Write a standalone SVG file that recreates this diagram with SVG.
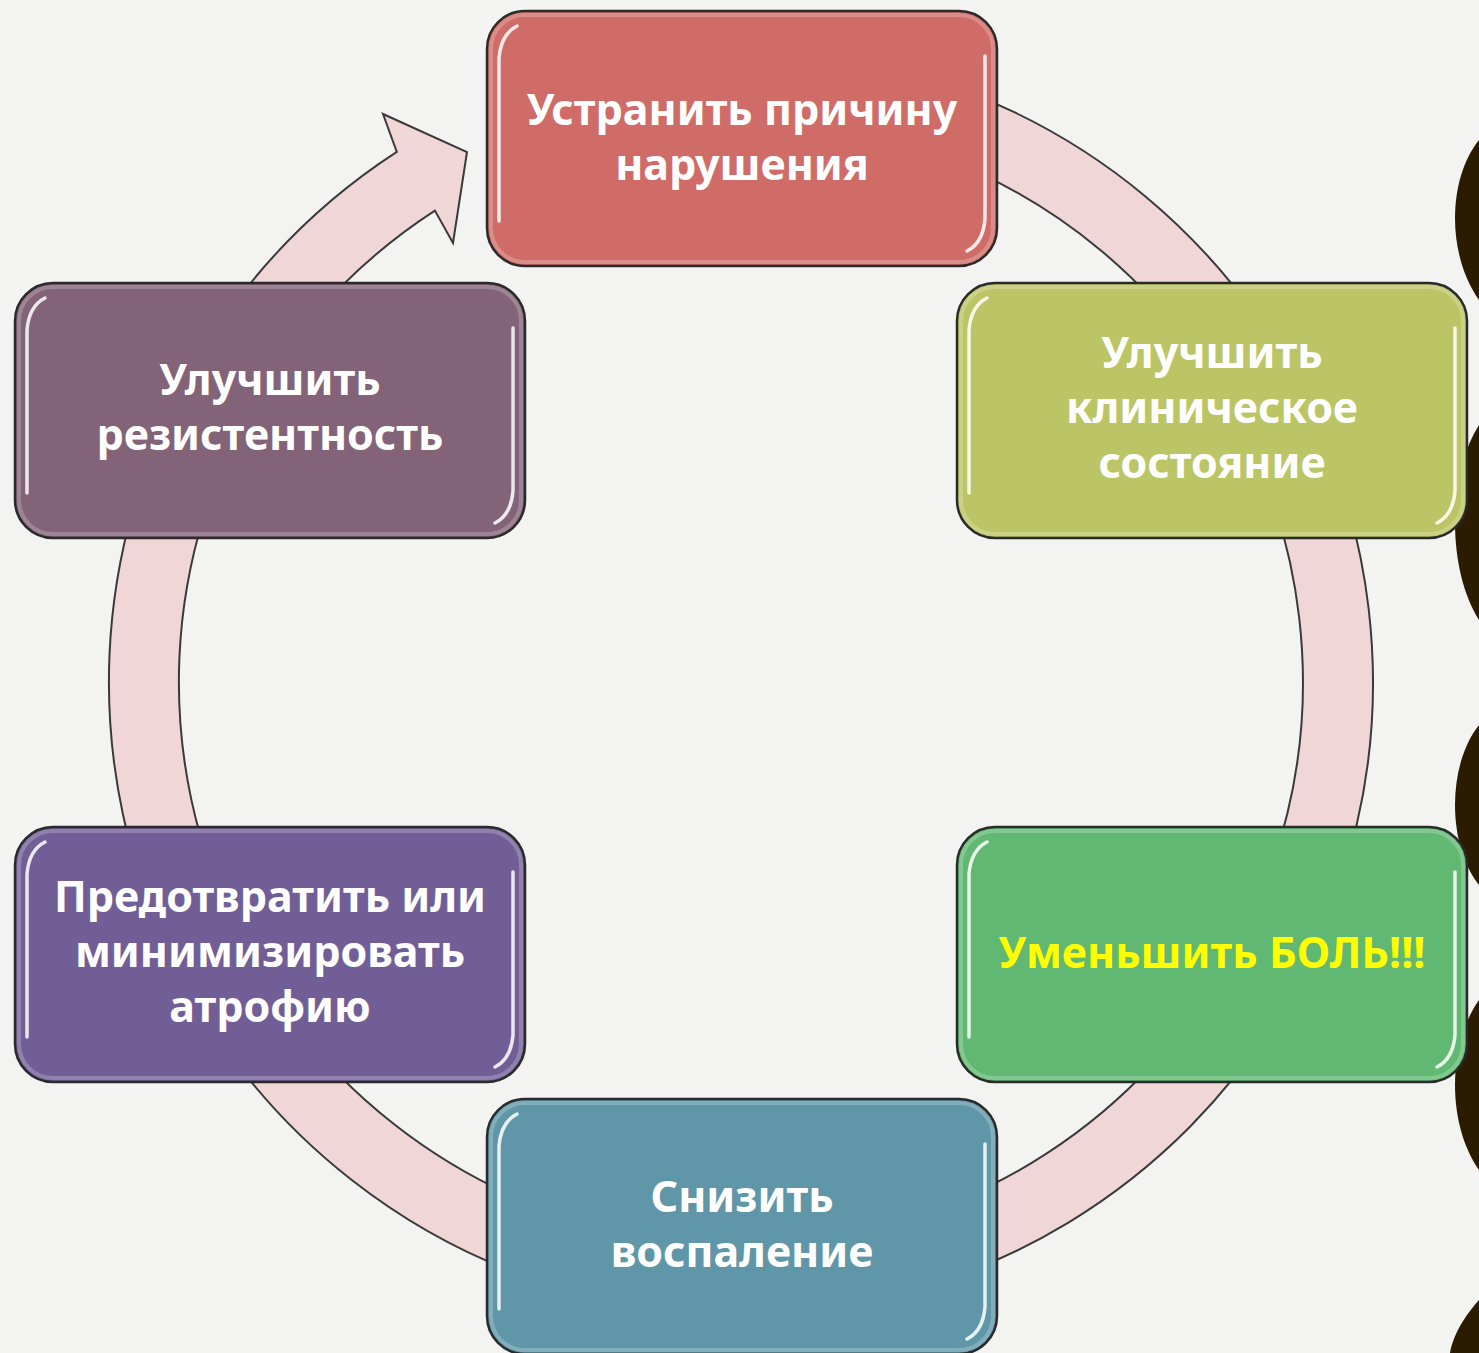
<svg xmlns="http://www.w3.org/2000/svg" width="1479" height="1353" viewBox="0 0 1479 1353">
<style>
.bg{fill:#F3F3F1}
.dark{fill:#2B1B00}
.ring{fill:#F0D6D6;stroke:#3a3a3a;stroke-width:2;stroke-linejoin:miter}
.box{stroke:#2a2a2a;stroke-width:2.5}
.rim{fill:none;stroke:#ffffff;stroke-opacity:0.22;stroke-width:4}
.hl{fill:none;stroke:#ffffff;stroke-width:3.5;stroke-linecap:round;stroke-opacity:0.85}
.t{font-family:"Noto Sans","Open Sans","DejaVu Sans",sans-serif;font-weight:bold;font-size:43px;fill:#ffffff;text-anchor:middle}
.y{fill:#FFFF00}
</style>
<rect class="bg" x="0" y="0" width="1479" height="1353"/>
<g id="edge-decor">
<path class="dark" d="M1479,140 C1447,180 1447,255 1479,300 Z"/>
<path class="dark" d="M1479,425 C1447,475 1447,570 1479,620 Z"/>
<path class="dark" d="M1479,725 C1447,765 1447,845 1479,885 Z"/>
<path class="dark" d="M1479,1000 C1447,1045 1447,1125 1479,1170 Z"/>
<path class="dark" d="M1479,1300 C1452,1330 1450,1353 1450,1353 L1479,1353 Z"/>
</g>
<g id="connectors">
<path class="ring" d="M741,50 A632,632 0 1 1 396.8,151.9 L383,114 L467,152 L453,243 L434.9,210.6 A562,562 0 1 0 741,120 Z"/>
</g>
<g id="node-top">
<rect class="box" x="487" y="11" width="510" height="255" rx="38" fill="#D06C67"/>
<rect class="rim" x="491" y="15" width="502" height="247" rx="34"/>
<path class="hl" d="M499,221 L499,58 Q501,34 517,26"/>
<path class="hl" d="M985,56 L985,219 Q983,243 967,251"/>
<text class="t" x="742" y="125">Устранить причину</text>
<text class="t" x="742" y="180">нарушения</text>
</g>
<g id="node-right-top">
<rect class="box" x="957" y="283" width="510" height="255" rx="38" fill="#BCC566"/>
<rect class="rim" x="961" y="287" width="502" height="247" rx="34"/>
<path class="hl" d="M969,493 L969,330 Q971,306 987,298"/>
<path class="hl" d="M1455,328 L1455,491 Q1453,515 1437,523"/>
<text class="t" x="1212" y="368">Улучшить</text>
<text class="t" x="1212" y="423">клиническое</text>
<text class="t" x="1212" y="478">состояние</text>
</g>
<g id="node-right-bottom">
<rect class="box" x="957" y="827" width="510" height="255" rx="38" fill="#61B872"/>
<rect class="rim" x="961" y="831" width="502" height="247" rx="34"/>
<path class="hl" d="M969,1037 L969,874 Q971,850 987,842"/>
<path class="hl" d="M1455,872 L1455,1035 Q1453,1059 1437,1067"/>
<text class="t y" x="1212" y="968">Уменьшить БОЛЬ!!!</text>
</g>
<g id="node-bottom">
<rect class="box" x="487" y="1099" width="510" height="255" rx="38" fill="#5F96A8"/>
<rect class="rim" x="491" y="1103" width="502" height="247" rx="34"/>
<path class="hl" d="M499,1309 L499,1146 Q501,1122 517,1114"/>
<path class="hl" d="M985,1144 L985,1307 Q983,1331 967,1339"/>
<text class="t" x="742" y="1212">Снизить</text>
<text class="t" x="742" y="1267">воспаление</text>
</g>
<g id="node-left-bottom">
<rect class="box" x="15" y="827" width="510" height="255" rx="38" fill="#715E96"/>
<rect class="rim" x="19" y="831" width="502" height="247" rx="34"/>
<path class="hl" d="M27,1037 L27,874 Q29,850 45,842"/>
<path class="hl" d="M513,872 L513,1035 Q511,1059 495,1067"/>
<text class="t" x="270" y="912">Предотвратить или</text>
<text class="t" x="270" y="967">минимизировать</text>
<text class="t" x="270" y="1022">атрофию</text>
</g>
<g id="node-left-top">
<rect class="box" x="15" y="283" width="510" height="255" rx="38" fill="#836378"/>
<rect class="rim" x="19" y="287" width="502" height="247" rx="34"/>
<path class="hl" d="M27,493 L27,330 Q29,306 45,298"/>
<path class="hl" d="M513,328 L513,491 Q511,515 495,523"/>
<text class="t" x="270" y="395">Улучшить</text>
<text class="t" x="270" y="450">резистентность</text>
</g>
</svg>
